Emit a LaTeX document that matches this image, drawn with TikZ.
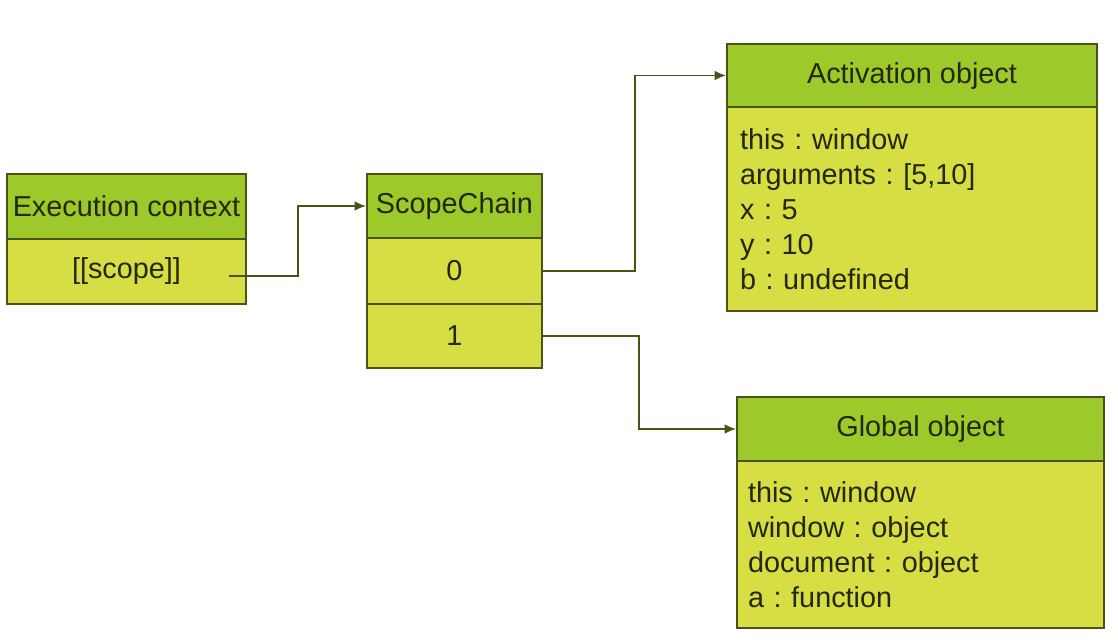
\documentclass[tikz,border=0pt]{standalone}
\usepackage{fontspec}
\setmainfont{Liberation Sans}
\frenchspacing
\usetikzlibrary{arrows.meta}
\definecolor{headgreen}{RGB}{157,201,42}
\definecolor{bodygreen}{RGB}{214,222,68}
\definecolor{boxline}{RGB}{72,84,22}
\definecolor{inkdark}{RGB}{36,40,6}
\begin{document}
\begin{tikzpicture}[
	head/.style  = {rectangle, draw = boxline, fill = headgreen, line width = 1.1pt, text = inkdark, font = \fontsize{16.4}{19.9}\selectfont, inner sep = 0pt},
	body/.style  = {rectangle, draw = boxline, fill = bodygreen, line width = 1.1pt, text = inkdark, font = \fontsize{16.4}{19.9}\selectfont, inner sep = 0pt},
	link/.style  = {draw = boxline, line width = 0.9pt, -{Latex[length=6.5pt,width=5.5pt]}}
	]
	\useasboundingbox (0,0) rectangle (22.36,12.8);
	% execution context
	\node (ech) at ( 2.53,  8.67)	[head, minimum width = 4.78cm, minimum height = 1.30cm]	{Execution context};
	\node (ecb) at ( 2.53,  7.37)	[body, minimum width = 4.78cm, minimum height = 1.30cm]	{[[scope]]};
	% scope chain
	\node (sch) at ( 9.09,  8.68)	[head, minimum width = 3.50cm, minimum height = 1.28cm]	{ScopeChain};
	\node (sc0) at ( 9.09,  7.38)	[body, minimum width = 3.50cm, minimum height = 1.32cm]	{0};
	\node (sc1) at ( 9.09,  6.08)	[body, minimum width = 3.50cm, minimum height = 1.28cm]	{1};
	% activation object
	\node (aoh) at (18.24, 11.29)	[head, minimum width = 7.40cm, minimum height = 1.26cm, text depth = 0.1cm]	{Activation object};
	\node (aob) at (18.24,  8.62)	[body, minimum height = 4.08cm, inner xsep = 0.26cm, text width = 6.88cm, align = left]
		{this : window\\arguments : [5,10]\\x : 5\\y : 10\\b : undefined};
	% global object
	\node (goh) at (18.41,  4.22)	[head, minimum width = 7.34cm, minimum height = 1.28cm]	{Global object};
	\node (gob) at (18.41,  1.91)	[body, minimum height = 3.34cm, inner xsep = 0.22cm, text width = 6.90cm, align = left]
		{this : window\\window : object\\document : object\\a : function};
	% connectors
	\draw[link] ([xshift = -0.36cm, yshift = -0.09cm]ecb.east) -- ++(1.38,0) |- (sch.west);
	\draw[link] (sc0.east) -- ++(1.84,0) |- (aoh.west);
	\draw[link] (sc1.east) -- ++(1.92,0) |- (goh.west);
\end{tikzpicture}
\end{document}
